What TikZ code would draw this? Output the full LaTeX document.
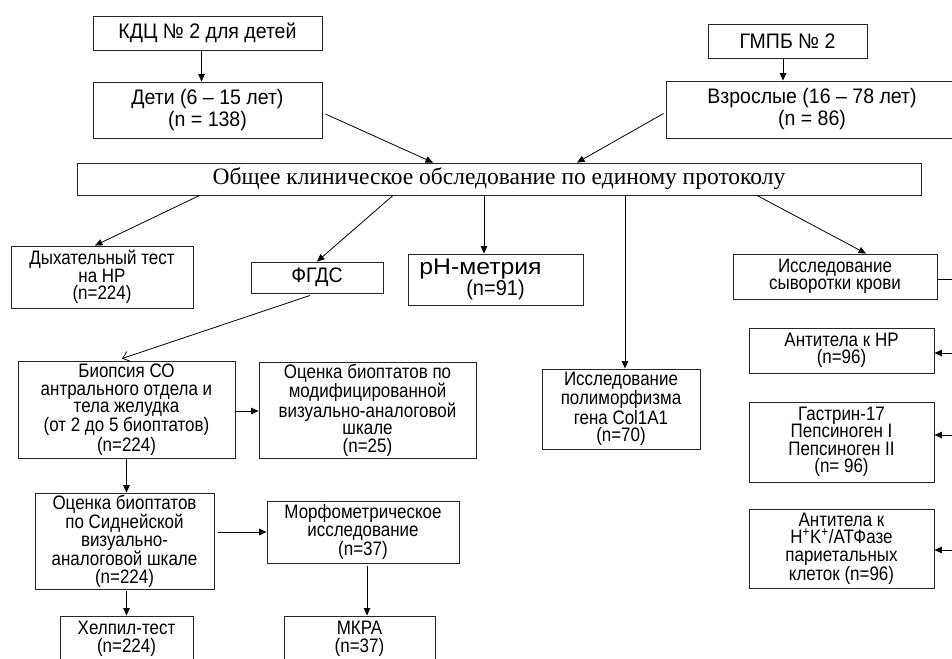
\documentclass[tikz,border=0pt]{standalone}
\usepackage{fontspec}
\setmainfont{Liberation Serif}
\newfontfamily\arialf[FakeStretch=0.93]{Liberation Sans}
\newfontfamily\arialn[FakeStretch=0.87]{Liberation Sans}
\newfontfamily\arialw[FakeStretch=1.1]{Liberation Sans}
\usetikzlibrary{arrows.meta,calc}
\tikzset{
  box/.style={draw=black!85, line width=0.9pt, inner sep=0pt, align=center},
  bigtxt/.style={font=\arialf\fontsize{21}{22}\selectfont},
  smalltxt/.style={font=\arialn\fontsize{19.5}{17.5}\selectfont},
  arr/.style={line width=0.8pt, -{Triangle[length=7.5pt,width=6.5pt]}},
  openarr/.style={line width=0.8pt, -{Straight Barb[length=6pt,width=10pt]}},
  ln/.style={line width=0.8pt}
}
\begin{document}
\begin{tikzpicture}[x=1pt,y=-1pt]
\useasboundingbox (0,0) rectangle (952,658);
\clip (0,0) rectangle (952,658);
% top
\node[box,bigtxt,minimum width=229,minimum height=34] (kdc) at (207.5,33) {КДЦ № 2 для детей};
\node[box,bigtxt,minimum width=229,minimum height=56] (deti) at (207.5,110) {Дети (6 – 15 лет)\\(n = 138)};
\node[box,bigtxt,minimum width=159,minimum height=34] (gmpb) at (787.5,41) {ГМПБ № 2};
\node[box,bigtxt,minimum width=292,minimum height=57] (vzr) at (812,109.5) {Взрослые (16 – 78 лет)\\(n = 86)};
\node[box,font=\fontsize{23.5}{25}\selectfont,minimum width=844,minimum height=32] (obsh) at (499,179) {Общее клиническое обследование по единому протоколу};
% second row
\node[box,smalltxt,minimum width=182,minimum height=62] (dyh) at (102,277) {Дыхательный тест\\на HP\\(n=224)};
\node[box,bigtxt,minimum width=132,minimum height=31] (fgds) at (317,277.5) {ФГДС};
\node[box,font=\arialf\fontsize{21.5}{19}\selectfont,minimum width=175,minimum height=51] (ph) at (495.5,279.5) {{\arialw\fontsize{22.5}{19}\selectfont pH-метрия\hspace*{30pt}}\\(n=91)};
\node[box,smalltxt,minimum width=204,minimum height=45] (syv) at (835,276.5) {Исследование\\сыворотки крови};
% right column
\node[box,smalltxt,minimum width=185,minimum height=45] (ahp) at (841.5,350.5) {Антитела к HP\\(n=96)};
\node[box,smalltxt,minimum width=185,minimum height=80] (gastr) at (841.5,442) {Гастрин-17\\Пепсиноген I\\Пепсиноген II\\(n= 96)};
\node[box,smalltxt,minimum width=185,minimum height=79] (hk) at (841.5,548.5) {Антитела к\\H\textsuperscript{+}K\textsuperscript{+}/АТФазе\\париетальных\\клеток (n=96)};
\node[box,smalltxt,minimum width=158,minimum height=80] (col) at (621,409) {Исследование\\полиморфизма\\гена Col1A1\\(n=70)};
% left part
\node[box,smalltxt,minimum width=217,minimum height=97] (biop) at (126.5,409.5) {Биопсия СО\\антрального отдела и\\тела желудка\\(от 2 до 5 биоптатов)\\(n=224)};
\node[box,smalltxt,minimum width=217,minimum height=96] (mod) at (367.5,410) {Оценка биоптатов по\\модифицированной\\визуально-аналоговой\\шкале\\(n=25)};
\node[box,smalltxt,minimum width=179,minimum height=96] (sid) at (124.5,541) {Оценка биоптатов\\по Сиднейской\\визуально-\\аналоговой шкале\\(n=224)};
\node[box,smalltxt,minimum width=192,minimum height=62] (morf) at (363,532) {Морфометрическое\\исследование\\(n=37)};
\node[box,smalltxt,minimum width=133,minimum height=46] (help) at (126.5,639) {Хелпил-тест\\(n=224)};
\node[box,smalltxt,minimum width=151,minimum height=46] (mkra) at (359.5,639) {МКРА\\(n=37)};
% connectors
\draw[arr] ([xshift=-6]kdc.south) -- ([xshift=-6]deti.north);
\draw[arr] ([xshift=-4.5]gmpb.south) -- ([xshift=-29]vzr.north);
\draw[arr] ($(deti.east)+(3,4)$) -- ([xshift=-66]obsh.north);
\draw[arr] ($(vzr.west)+(-2,4)$) -- ([xshift=78]obsh.north);
\draw[arr] ([xshift=123]obsh.south west) -- ([xshift=-7]dyh.north);
\draw[arr] ([xshift=-106]obsh.south) -- (fgds.north);
\draw[arr] ([xshift=-15]obsh.south) -- ([xshift=-11.5]ph.north);
\draw[arr] ([xshift=126]obsh.south) -- ([xshift=4]col.north);
\draw[arr] ([xshift=258]obsh.south) -- ([xshift=31]syv.north);
\draw[openarr] ($(fgds.south)+(-7,2)$) -- ($(biop.north)+(-4.5,-2)$);
\draw[arr] ($(biop.east)+(0,1.5)$) -- ($(mod.west)+(0,1)$);
\draw[arr] (biop.south) -- (biop.south |- sid.north);
\draw[arr] ([xshift=4]sid.east |- morf.west) -- (morf.west);
\draw[arr] ($(sid.south -| biop.south)+(0,2)$) -- (biop.south |- help.north);
\draw[arr] ($(morf.south)+(4,3)$) -- ($(mkra.north)+(7.5,0)$);
\coordinate (r1) at ($(syv.east)+(23,2.5)$);
\coordinate (r2) at ($(r1 |- hk.east)+(0,1.5)$);
\draw[ln] ($(syv.east)+(0,2.5)$) -- (r1) -- (r2);
\draw[arr] ($(r1 |- ahp.east)+(0,2.5)$) -- ($(ahp.east)+(0,2.5)$);
\draw[arr] ($(r1 |- gastr.east)+(0,-7)$) -- ($(gastr.east)+(0,-7)$);
\draw[arr] (r2) -- ($(hk.east)+(0,1.5)$);
\end{tikzpicture}
\end{document}
